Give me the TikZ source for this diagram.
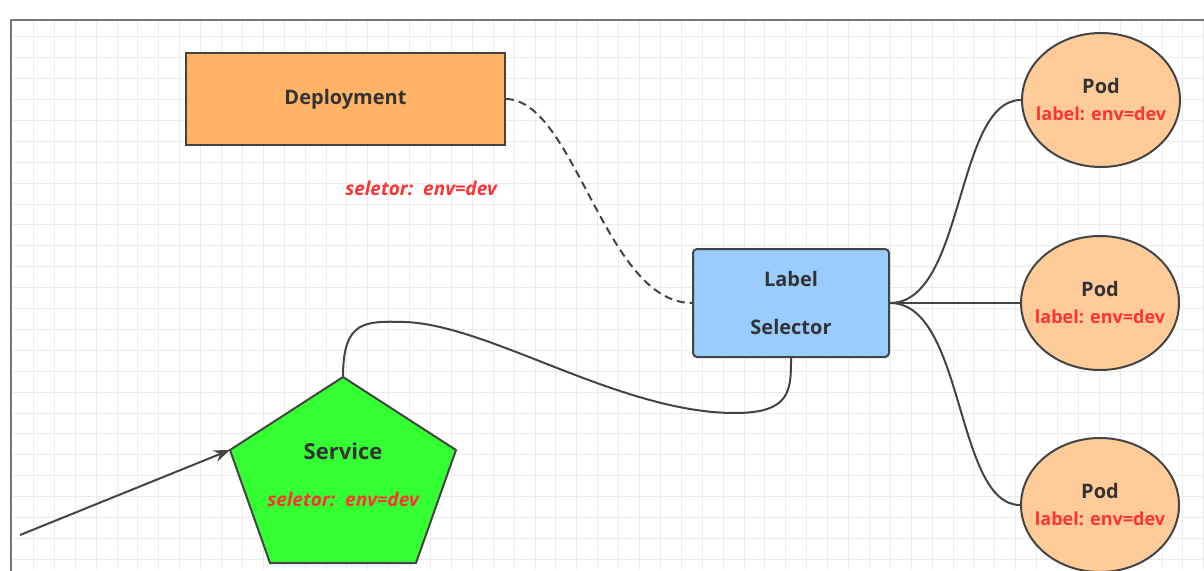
\documentclass[tikz,border=0pt]{standalone}
\usepackage{fontspec}
\setmainfont{Open Sans}
\usetikzlibrary{arrows.meta,shapes.geometric}
\definecolor{linec}{HTML}{444444}
\definecolor{textc}{HTML}{333333}
\definecolor{redc}{HTML}{FF3333}
\definecolor{deplc}{HTML}{FFB366}
\definecolor{lsc}{HTML}{99CCFF}
\definecolor{podc}{HTML}{FFCC99}
\definecolor{svcc}{HTML}{33FF33}
\definecolor{gridc}{HTML}{EBEBEB}
\definecolor{framec}{HTML}{777777}
\tikzset{
  gridline/.style={draw=gridc, line width=0.8},
  box/.style={draw=linec, line width=2, text=textc, font=\bfseries\fontsize{20}{24}\selectfont},
  podbox/.style={ellipse, draw=linec, line width=2, fill=podc, minimum width=158, minimum height=134, inner sep=0, align=center, text=textc, font=\bfseries\fontsize{20}{24}\selectfont},
  conn/.style={draw=linec, line width=2},
  seltext/.style={text=redc, font=\bfseries\itshape\fontsize{19}{22}\selectfont},
}
\newcommand{\podtext}{\makebox[0pt]{Pod}\\[3pt]\makebox[0pt]{\color{redc}\bfseries\fontsize{18}{22}\selectfont label: env=dev}}
\begin{document}
\begin{tikzpicture}[x=1pt,y=-1pt]
\useasboundingbox (0,0) rectangle (1204,570);
\clip (0,0) rectangle (1204,570);
% grid
\foreach \i in {0,...,56} \draw[gridline] ({33.3+20.9*\i},20) -- ({33.3+20.9*\i},570);
\foreach \j in {0,...,26} \draw[gridline] (11,{36.7+20.9*\j}) -- (1204,{36.7+20.9*\j});
% frame
\draw[framec, line width=1.5] (11,580) -- (11,20) -- (1210,20);

% nodes
\node[box, fill=deplc, minimum width=319, minimum height=92] (dep) at (345.5,99) {Deployment};
\node[seltext] (depsel) at (421,188) {seletor:\ \ env=dev};
\node[box, fill=lsc, rounded corners=4, minimum width=196, minimum height=108, align=center, font=\bfseries\fontsize{20}{48}\selectfont] (ls) at (791,303) {Label\\Selector};
\node[podbox] (pod1) at (1101,100) {\podtext};
\node[podbox] (pod2) at (1100,303) {\podtext};
\node[podbox] (pod3) at (1100,505) {\podtext};

% service pentagon
\coordinate (ptop) at (343,377);
\coordinate (pright) at (456,450);
\coordinate (pbr) at (416,563);
\coordinate (pbl) at (270,563);
\coordinate (pleft) at (230,450);
\draw[conn, fill=svcc, line join=miter] (ptop) -- (pright) -- (pbr) -- (pbl) -- (pleft) -- cycle;
\node[text=textc, font=\bfseries\fontsize{22}{26}\selectfont] (svc) at (343,451) {Service};
\node[seltext] (svcsel) at (343,499) {seletor:\ \ env=dev};

% connectors
\draw[conn, dash pattern=on 8pt off 5pt] (dep.east) .. controls (575,100) and (605,303) .. (ls.west);
\draw[conn] (ptop) .. controls (343,320) and (365,321) .. (405,322)
  .. controls (490,325) and (620,413) .. (735,413)
  .. controls (791,413) and (791,390) .. (ls.south);
\draw[conn] (ls.east) .. controls (965,303) and (955,100) .. (pod1.west);
\draw[conn] (ls.east) -- (pod2.west);
\draw[conn] (ls.east) .. controls (965,303) and (955,505) .. (pod3.west);
\coordinate (start) at (20,535);
\draw[conn, -{Stealth[length=16,width=12]}] (start) -- (pleft);
\end{tikzpicture}
\end{document}
